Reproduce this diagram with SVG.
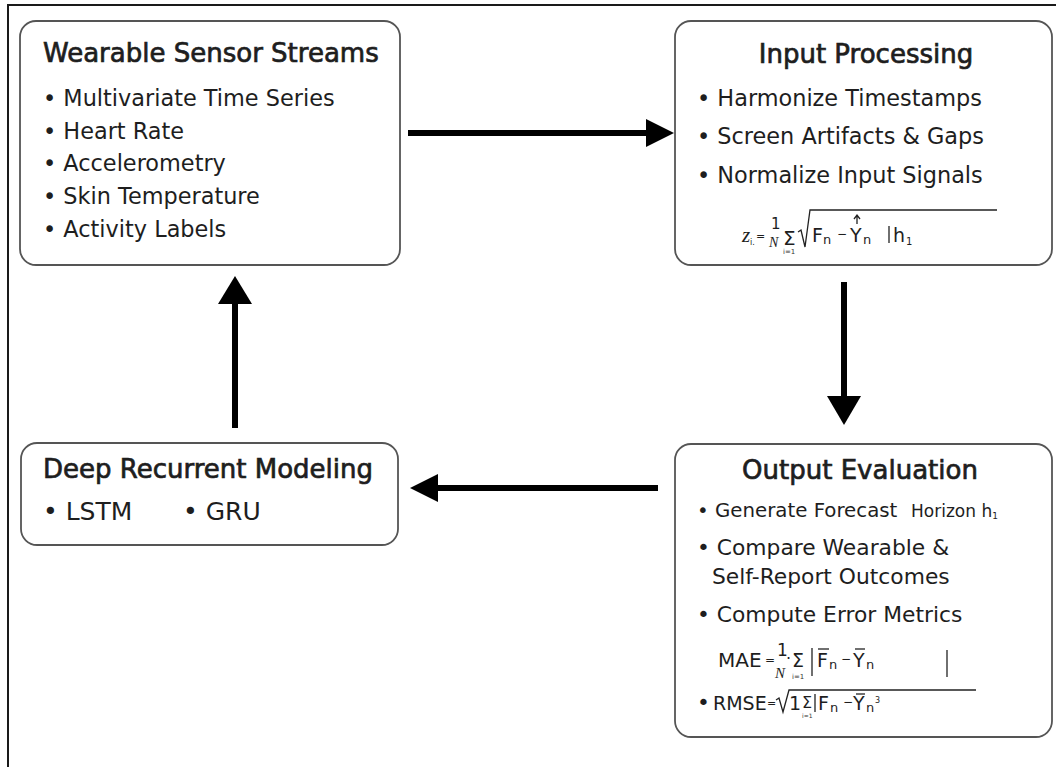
<svg xmlns="http://www.w3.org/2000/svg" width="1056" height="767" viewBox="0 0 1056 767">
  <style>
    .frame { fill: none; stroke: #1a1a1a; stroke-width: 2; }
    .box { fill: #ffffff; stroke: #555555; stroke-width: 1.8; }
    .title { font-family: "DejaVu Sans", "Liberation Sans", sans-serif; font-size: 26px; fill: #1e1e1e; stroke: #1e1e1e; stroke-width: 0.7; }
    .item { font-family: "DejaVu Sans", "Liberation Sans", sans-serif; font-size: 22.4px; fill: #1e1e1e; }
    .out { font-size: 21.8px; }
    .math { font-family: "DejaVu Sans", "Liberation Sans", sans-serif; fill: #1e1e1e; }
    .small { font-family: "DejaVu Sans", "Liberation Sans", sans-serif; fill: #333333; }
    .ital { font-family: "Liberation Serif", serif; font-style: italic; }
    .rule { fill: none; stroke: #222222; stroke-width: 1.3; }
    .shaft { stroke: #000000; stroke-width: 6; fill: none; }
    .head { fill: #000000; }
  </style>

  <rect width="1056" height="767" fill="#ffffff"/>
  <!-- page frame: top and left edges only -->
  <path class="frame" d="M8 767 V5 H1056"/>

  <!-- connectors -->
  <g id="connectors">
    <line class="shaft" x1="408" y1="133" x2="650" y2="133"/>
    <polygon class="head" points="646,119 674,133 646,147"/>
    <line class="shaft" x1="844" y1="282" x2="844" y2="400"/>
    <polygon class="head" points="827,396 844,425 861,396"/>
    <line class="shaft" x1="658" y1="488" x2="434" y2="488"/>
    <polygon class="head" points="438,474 410,488 438,502"/>
    <line class="shaft" x1="235" y1="428" x2="235" y2="300"/>
    <polygon class="head" points="218,304 235,276 252,304"/>
  </g>

  <!-- Wearable Sensor Streams -->
  <g id="wearable-sensor-streams">
    <rect class="box" x="20" y="21" width="380" height="244" rx="16"/>
    <text class="title" x="43" y="62">Wearable Sensor Streams</text>
    <text class="item" x="43" y="106">• Multivariate Time Series</text>
    <text class="item" x="43" y="139">• Heart Rate</text>
    <text class="item" x="43" y="171">• Accelerometry</text>
    <text class="item" x="43" y="204">• Skin Temperature</text>
    <text class="item" x="43" y="237">• Activity Labels</text>
  </g>

  <!-- Input Processing -->
  <g id="input-processing">
    <rect class="box" x="675" y="21" width="377" height="244" rx="16"/>
    <text class="title" x="866" y="63" text-anchor="middle">Input Processing</text>
    <text class="item" x="697" y="106">• Harmonize Timestamps</text>
    <text class="item" x="697" y="144">• Screen Artifacts &amp; Gaps</text>
    <text class="item" x="697" y="183">• Normalize Input Signals</text>
    <!-- z_i = 1/N Σ √(F_n − Ŷ_n |h_1) -->
    <text class="math ital" x="742" y="242" font-size="21">z</text>
    <text class="math" x="750" y="245" font-size="8">i.</text>
    <text class="math" x="756" y="240" font-size="11">=</text>
    <text class="math" x="771" y="229" font-size="15">1</text>
    <text class="math ital" x="769" y="247" font-size="14">N</text>
    <text class="math" x="783" y="245" font-size="20">Σ</text>
    <text class="small" x="783" y="254" font-size="7">i=1</text>
    <path class="rule" d="M798 232 L801 230 L805 247 L810 210 H997"/>
    <text class="math" x="812" y="242" font-size="19">F</text>
    <text class="math" x="823" y="244" font-size="13">n</text>
    <text class="math" x="837" y="238" font-size="12">−</text>
    <text class="math" x="850" y="242" font-size="19">Y</text>
    <path class="rule" d="M857 224 V216 M854 219 L857 215 L860 219"/>
    <text class="math" x="863" y="244" font-size="13">n</text>
    <line class="rule" x1="889" y1="226" x2="889" y2="243"/>
    <text class="math" x="893" y="242" font-size="19">h</text>
    <text class="math" x="906" y="245" font-size="10">1</text>
  </g>

  <!-- Output Evaluation -->
  <g id="output-evaluation">
    <rect class="box" x="675" y="444" width="377" height="293" rx="16"/>
    <text class="title" x="860" y="479" text-anchor="middle">Output Evaluation</text>
    <text class="item" x="697" y="517" style="font-size:19.8px">• Generate Forecast</text>
    <text class="item" x="911" y="517" style="font-size:17px" fill="#3a3a3a">Horizon h<tspan font-size="9" dy="2">1</tspan></text>
    <text class="item out" x="697" y="555">• Compare Wearable &amp;</text>
    <text class="item out" x="712" y="584">Self-Report Outcomes</text>
    <text class="item out" x="697" y="622">• Compute Error Metrics</text>
    <!-- MAE = 1/N · Σ |F̄_n − Ȳ_n| -->
    <text class="math" x="718" y="667" font-size="20">MAE</text>
    <text class="math" x="765" y="664" font-size="12">=</text>
    <text class="math" x="777" y="656" font-size="17">1</text>
    <text class="math ital" x="775" y="678" font-size="15">N</text>
    <text class="math" x="786" y="664" font-size="16">·</text>
    <text class="math" x="792" y="667" font-size="19">Σ</text>
    <text class="small" x="792" y="679" font-size="7">i=1</text>
    <line class="rule" x1="812" y1="648" x2="812" y2="676"/>
    <text class="math" x="817" y="667" font-size="19">F</text>
    <text class="math" x="829" y="669" font-size="13">n</text>
    <text class="math" x="841" y="663" font-size="12">−</text>
    <text class="math" x="853" y="667" font-size="19">Y</text>
    <text class="math" x="866" y="669" font-size="13">n</text>
    <line class="rule" x1="818" y1="649" x2="829" y2="649"/>
    <line class="rule" x1="855" y1="649" x2="865" y2="649"/>
    <line class="rule" x1="947" y1="650" x2="947" y2="677"/>
    <!-- RMSE = √(1 Σ |F_n − Ȳ_n³) -->
    <text class="item out" x="697" y="710">•</text>
    <text class="math" x="713" y="710" font-size="19">RMSE</text>
    <text class="math" x="767" y="707" font-size="11">=</text>
    <path class="rule" d="M776 700 L779 698 L783 712 L789 690 H976"/>
    <text class="math" x="789" y="710" font-size="19">1</text>
    <text class="math" x="802" y="708" font-size="16">Σ</text>
    <text class="small" x="802" y="718" font-size="6">i=1</text>
    <line class="rule" x1="815" y1="694" x2="815" y2="712"/>
    <text class="math" x="818" y="710" font-size="19">F</text>
    <text class="math" x="830" y="712" font-size="13">n</text>
    <text class="math" x="843" y="706" font-size="12">−</text>
    <text class="math" x="853" y="710" font-size="19">Y</text>
    <text class="math" x="866" y="712" font-size="13">n</text>
    <text class="math" x="875" y="703" font-size="8">3</text>
    <line class="rule" x1="856" y1="694" x2="865" y2="694"/>
  </g>

  <!-- Deep Recurrent Modeling -->
  <g id="deep-recurrent-modeling">
    <rect class="box" x="21" y="443" width="377" height="102" rx="16"/>
    <text class="title" x="43" y="478">Deep Recurrent Modeling</text>
    <text class="item" x="43" y="520" style="font-size:25px">• LSTM</text>
    <text class="item" x="183" y="520" style="font-size:25px">• GRU</text>
  </g>
</svg>
